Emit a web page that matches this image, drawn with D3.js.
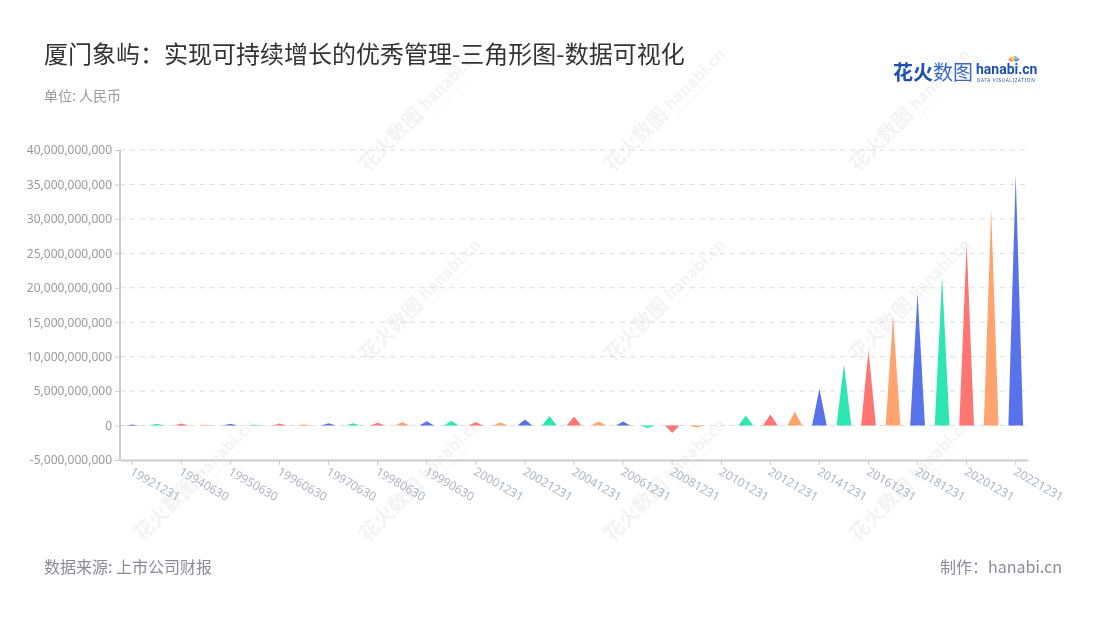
<!DOCTYPE html>
<html><head><meta charset="utf-8">
<script src="https://cdn.jsdelivr.net/npm/d3@7/dist/d3.min.js"></script>
<style>
html,body{margin:0;padding:0;background:#fff;}
svg{display:block;font-family:"Noto Sans CJK SC","Noto Sans",sans-serif;}
</style></head>
<body>
<svg id="chart" width="1100" height="620"></svg>
<script>
const categories = ["19921231","19931231","19940630","19941231","19950630","19951231","19960630","19961231",
  "19970630","19971231","19980630","19981231","19990630","19991231","20001231","20011231",
  "20021231","20031231","20041231","20051231","20061231","20071231","20081231","20091231",
  "20101231","20111231","20121231","20131231","20141231","20151231","20161231","20171231",
  "20181231","20191231","20201231","20211231","20221231"];
const values = [0.15e9,0.25e9,0.3e9,0.1e9,0.25e9,0.1e9,0.3e9,0.15e9,
  0.33e9,0.33e9,0.4e9,0.53e9,0.63e9,0.68e9,0.48e9,0.43e9,
  0.87e9,1.4e9,1.3e9,0.58e9,0.58e9,-0.34e9,-1.07e9,-0.29e9,
  0.01e9,1.45e9,1.6e9,2.04e9,5.34e9,8.87e9,10.9e9,15.9e9,
  19.25e9,21.6e9,26.5e9,31.3e9,36.4e9];
const colors = ["#5873EA","#2EE6B0","#FF7571","#FFA36F"];
const yTicks = [-5e9,0,5e9,10e9,15e9,20e9,25e9,30e9,35e9,40e9];
const title = "厦门象屿：实现可持续增长的优秀管理-三角形图-数据可视化";
const unitText = "单位: 人民币";
const sourceText = "数据来源: 上市公司财报";
const makerText = "制作：hanabi.cn";

const svg = d3.select("#chart");
const L = 120, R = 1028, T = 150, B = 460;

// watermarks
const wm = svg.append("g").attr("opacity", 0.055);
const wmPos = [[410,130],[655,130],[900,130],[410,320],[655,320],[900,320],[185,500],[410,500],[655,500],[900,500]];
wmPos.forEach(([x,y]) => {
  const g = wm.append("g").attr("transform", `translate(${x},${y}) rotate(-45)`);
  g.append("text").attr("x",-60).attr("y",0).attr("font-size",20).attr("font-weight","bold").attr("fill","#333").text("花火数图");
  g.append("text").attr("x",25).attr("y",-2).attr("font-size",16).attr("font-weight","bold").attr("fill","#333").text("hanabi.cn");
  g.append("text").attr("x",27).attr("y",6).attr("font-size",5).attr("fill","#333").text("DATA VISUALIZATION");
});

const x = d3.scaleBand().domain(categories).range([L, R]).padding(0);
const y = d3.scaleLinear().domain([-5e9, 40e9]).range([B, T]);
const fmt = d3.formatLocale({decimal:".", thousands:",", grouping:[3], currency:["",""], minus:"-"}).format(",");

// grid
svg.append("g").selectAll("line").data(yTicks.filter(d => d !== -5e9)).join("line")
  .attr("x1", L).attr("x2", R).attr("y1", d => y(d)).attr("y2", d => y(d))
  .attr("stroke", "#dcdcdc").attr("stroke-dasharray", "5,5").attr("stroke-width", 1);

// y axis
const yAxis = svg.append("g").attr("transform", `translate(${L},0)`)
  .call(d3.axisLeft(y).tickValues(yTicks).tickFormat(fmt).tickSize(5).tickPadding(3));
yAxis.select(".domain").attr("stroke", "#ccc").attr("stroke-width", 2).attr("d", `M0,${T}V${B}`);
yAxis.selectAll(".tick line").attr("stroke", "#ccc");
yAxis.selectAll(".tick text").attr("fill", "#9a9a9a").attr("font-size", 12)
  .attr("font-family", "'Noto Sans','Noto Sans CJK SC',sans-serif");

// x axis
const labelCats = categories.filter((d,i) => i % 2 === 0);
const xAxis = svg.append("g").attr("transform", `translate(0,${B})`)
  .call(d3.axisBottom(x).tickValues(labelCats).tickSize(5).tickSizeOuter(0));
xAxis.select(".domain").attr("stroke", "#ccc").attr("stroke-width", 2);
xAxis.selectAll(".tick line").attr("stroke", "#ccc");
xAxis.selectAll(".tick text").attr("fill", "#b0b4c4").attr("font-size", 12)
  .attr("font-family", "'Noto Sans','Noto Sans CJK SC',sans-serif")
  .attr("text-anchor", "start").attr("dy", 0).attr("y", 0)
  .attr("transform", "translate(-3,14) rotate(30)");

// triangles
const w = x.bandwidth() * 0.6;
svg.append("g").selectAll("path").data(values).join("path")
  .attr("d", (v,i) => {
    const cx = x(categories[i]) + x.bandwidth()/2;
    const y0 = y(0), y1 = y(v);
    return `M${cx - w/2},${y0}L${cx},${y1}L${cx + w/2},${y0}Z`;
  })
  .attr("fill", (v,i) => colors[i % 4]);

// titles
svg.append("text").attr("x", 44).attr("y", 63).attr("font-size", 24).attr("fill", "#333").text(title);
svg.append("text").attr("x", 44).attr("y", 101).attr("font-size", 14).attr("fill", "#999").text(unitText);
svg.append("text").attr("x", 44).attr("y", 573).attr("font-size", 16).attr("fill", "#8a8a98").text(sourceText);
svg.append("text").attr("x", 1062).attr("y", 573).attr("font-size", 16).attr("fill", "#8a8a98").attr("text-anchor","end").text(makerText);

// logo
const logo = svg.append("g");
logo.append("text").attr("x", 893).attr("y", 80).attr("font-size", 20).attr("font-weight", "bold").attr("fill", "#1d4fb4").text("花火");
logo.append("text").attr("x", 933).attr("y", 80).attr("font-size", 20).attr("fill", "#3a6ac8").text("数图");
logo.append("text").attr("x", 976).attr("y", 74).attr("font-size", 14).attr("font-weight", "bold").attr("fill", "#1d4fb4")
  .attr("font-family", "Roboto,'Noto Sans',sans-serif").attr("letter-spacing", 0).text("hanabi.cn");
logo.append("text").attr("x", 977).attr("y", 82).attr("font-size", 4.6).attr("fill", "#1d4fb4")
  .attr("font-family", "'Noto Sans',sans-serif").attr("letter-spacing", 0.7).text("DATA VISUALIZATION");
const burst = ["#ff6b6b","#ffb347","#ffe066","#6bd46b","#4fc3f7","#9575cd"];
burst.forEach((c,i) => {
  const a = -150 + i * 24;
  const r = a * Math.PI / 180;
  logo.append("line").attr("x1", 1014 + Math.cos(r)*2).attr("y1", 62 + Math.sin(r)*2)
    .attr("x2", 1014 + Math.cos(r)*5.5).attr("y2", 62 + Math.sin(r)*5.5)
    .attr("stroke", c).attr("stroke-width", 1.6).attr("stroke-linecap","round");
});
</script>
</body></html>
